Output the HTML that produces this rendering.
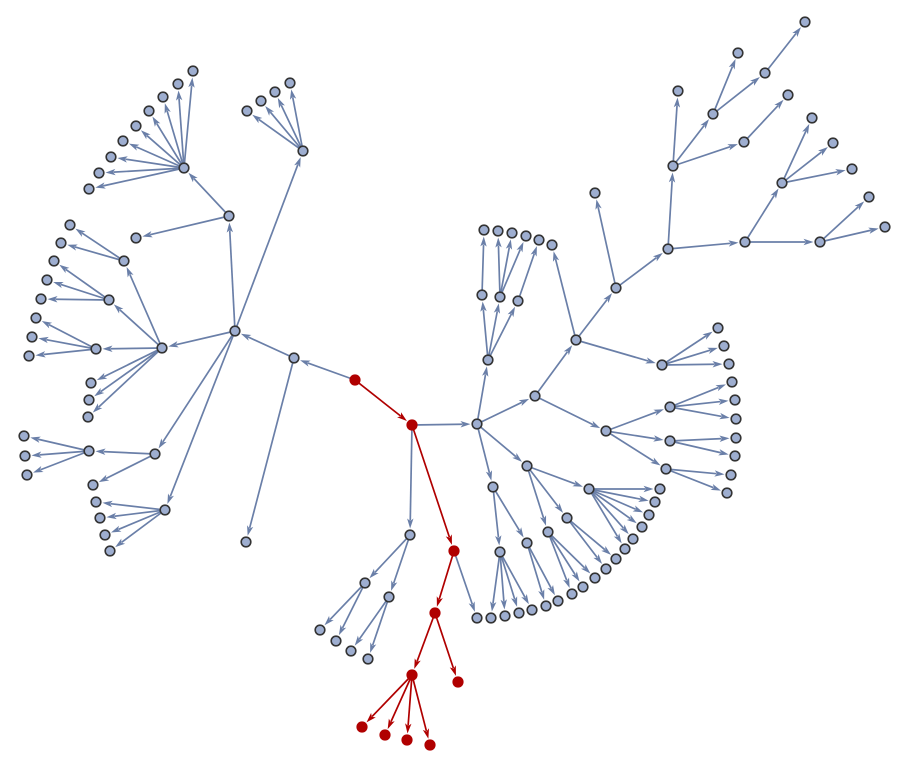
<!DOCTYPE html>
<html><head><meta charset="utf-8"><style>html,body{margin:0;padding:0;background:#fff}svg{display:block}</style></head>
<body>
<svg id="g" width="910" height="768" viewBox="0 0 910 768" xmlns="http://www.w3.org/2000/svg"></svg>
<script>
const B=[
[[294,358],[[235,331],[246,542]]],
[[235,331],[[229,216],[303,151],[162,348],[155,454],[165,510]]],
[[229,216],[[184,168],[136,238]]],
[[184,168],[[193,71],[178,84],[163,97],[149,111],[136,126],[123,141],[111,157],[99,173],[89,189]]],
[[303,151],[[247,111],[261,101],[275,92],[290,83]]],
[[162,348],[[124,261],[109,300],[96,349],[91,383],[89,400],[88,417]]],
[[124,261],[[70,225],[61,243]]],
[[109,300],[[54,261],[47,280],[41,299]]],
[[96,349],[[36,318],[32,337],[29,356]]],
[[155,454],[[89,451],[93,485]]],
[[89,451],[[24,436],[25,456],[27,475]]],
[[165,510],[[96,502],[100,518],[105,535],[110,551]]],
[[410,535],[[365,583],[389,597]]],
[[365,583],[[320,630],[336,641]]],
[[389,597],[[351,651],[368,659]]],
[[477,424],[[535,396],[488,360],[493,487],[527,466]]],
[[488,360],[[482,295],[500,297],[518,301]]],
[[482,295],[[484,230]]],
[[500,297],[[498,231],[512,233],[526,236]]],
[[518,301],[[539,240]]],
[[535,396],[[576,340],[606,431]]],
[[576,340],[[552,245],[616,288],[662,365]]],
[[662,365],[[718,328],[724,346],[729,364]]],
[[616,288],[[595,193],[668,249]]],
[[668,249],[[673,166],[745,242]]],
[[673,166],[[678,91],[713,114],[744,142]]],
[[713,114],[[738,53],[765,73]]],
[[765,73],[[805,22]]],
[[744,142],[[788,95]]],
[[745,242],[[782,183],[820,242]]],
[[782,183],[[812,118],[833,143],[852,169]]],
[[820,242],[[869,197],[885,227]]],
[[606,431],[[670,407],[670,441],[666,469]]],
[[670,407],[[732,382],[735,400],[736,419]]],
[[670,441],[[736,438],[735,456]]],
[[666,469],[[731,475],[727,493]]],
[[493,487],[[500,552],[527,543]]],
[[500,552],[[491,618],[505,616],[519,613],[532,610]]],
[[527,543],[[546,606],[558,601]]],
[[527,466],[[548,532],[567,518],[589,489]]],
[[548,532],[[572,594],[583,587],[595,578]]],
[[567,518],[[606,569],[616,559]]],
[[589,489],[[625,549],[633,539],[642,527],[649,515],[655,502],[660,489]]],
[[355,380],[[294,358]]],
[[412,425],[[477,424],[410,535]]],
[[454,551],[[477,618]]]
];
const R=[
[[355,380],[[412,425]]],
[[412,425],[[454,551]]],
[[454,551],[[435,613]]],
[[435,613],[[412,675],[458,682]]],
[[412,675],[[362,727],[385,735],[407,740],[430,745]]]
];
const NS="http://www.w3.org/2000/svg",g=document.getElementById('g');
let edges="",nodesB={},nodesR={};
function edge(a,b,col,r){
 const dx=b[0]-a[0],dy=b[1]-a[1],L=Math.hypot(dx,dy),ux=dx/L,uy=dy/L;
 const tx=b[0]-ux*(r+1),ty=b[1]-uy*(r+1);
 const bx=tx-ux*10,by=ty-uy*10,px=-uy*3.2,py=ux*3.2;
 edges+=`<line x1="${a[0]}" y1="${a[1]}" x2="${bx+ux*2}" y2="${by+uy*2}" stroke="${col}" stroke-width="1.7"/>`;
 edges+=`<polygon points="${tx},${ty} ${bx+px},${by+py} ${bx+ux*2.5},${by+uy*2.5} ${bx-px},${by-py}" fill="${col}"/>`;
}
for(const [a,cs] of B){nodesB[a]=a;for(const c of cs){edge(a,c,"#6a7fa8",5.5);nodesB[c]=c;}}
for(const [a,cs] of R){nodesR[a]=a;for(const c of cs){edge(a,c,"#b00000",5.5);nodesR[c]=c;}}
let s=edges;
for(const k in nodesB){if(nodesR[k])continue;const p=nodesB[k];s+=`<circle cx="${p[0]}" cy="${p[1]}" r="4.8" fill="#9eaed0" stroke="#333" stroke-width="1.6"/>`;}
for(const k in nodesR){const p=nodesR[k];s+=`<circle cx="${p[0]}" cy="${p[1]}" r="5.6" fill="#b00000"/>`;}
g.innerHTML=s;
</script>
</body></html>
